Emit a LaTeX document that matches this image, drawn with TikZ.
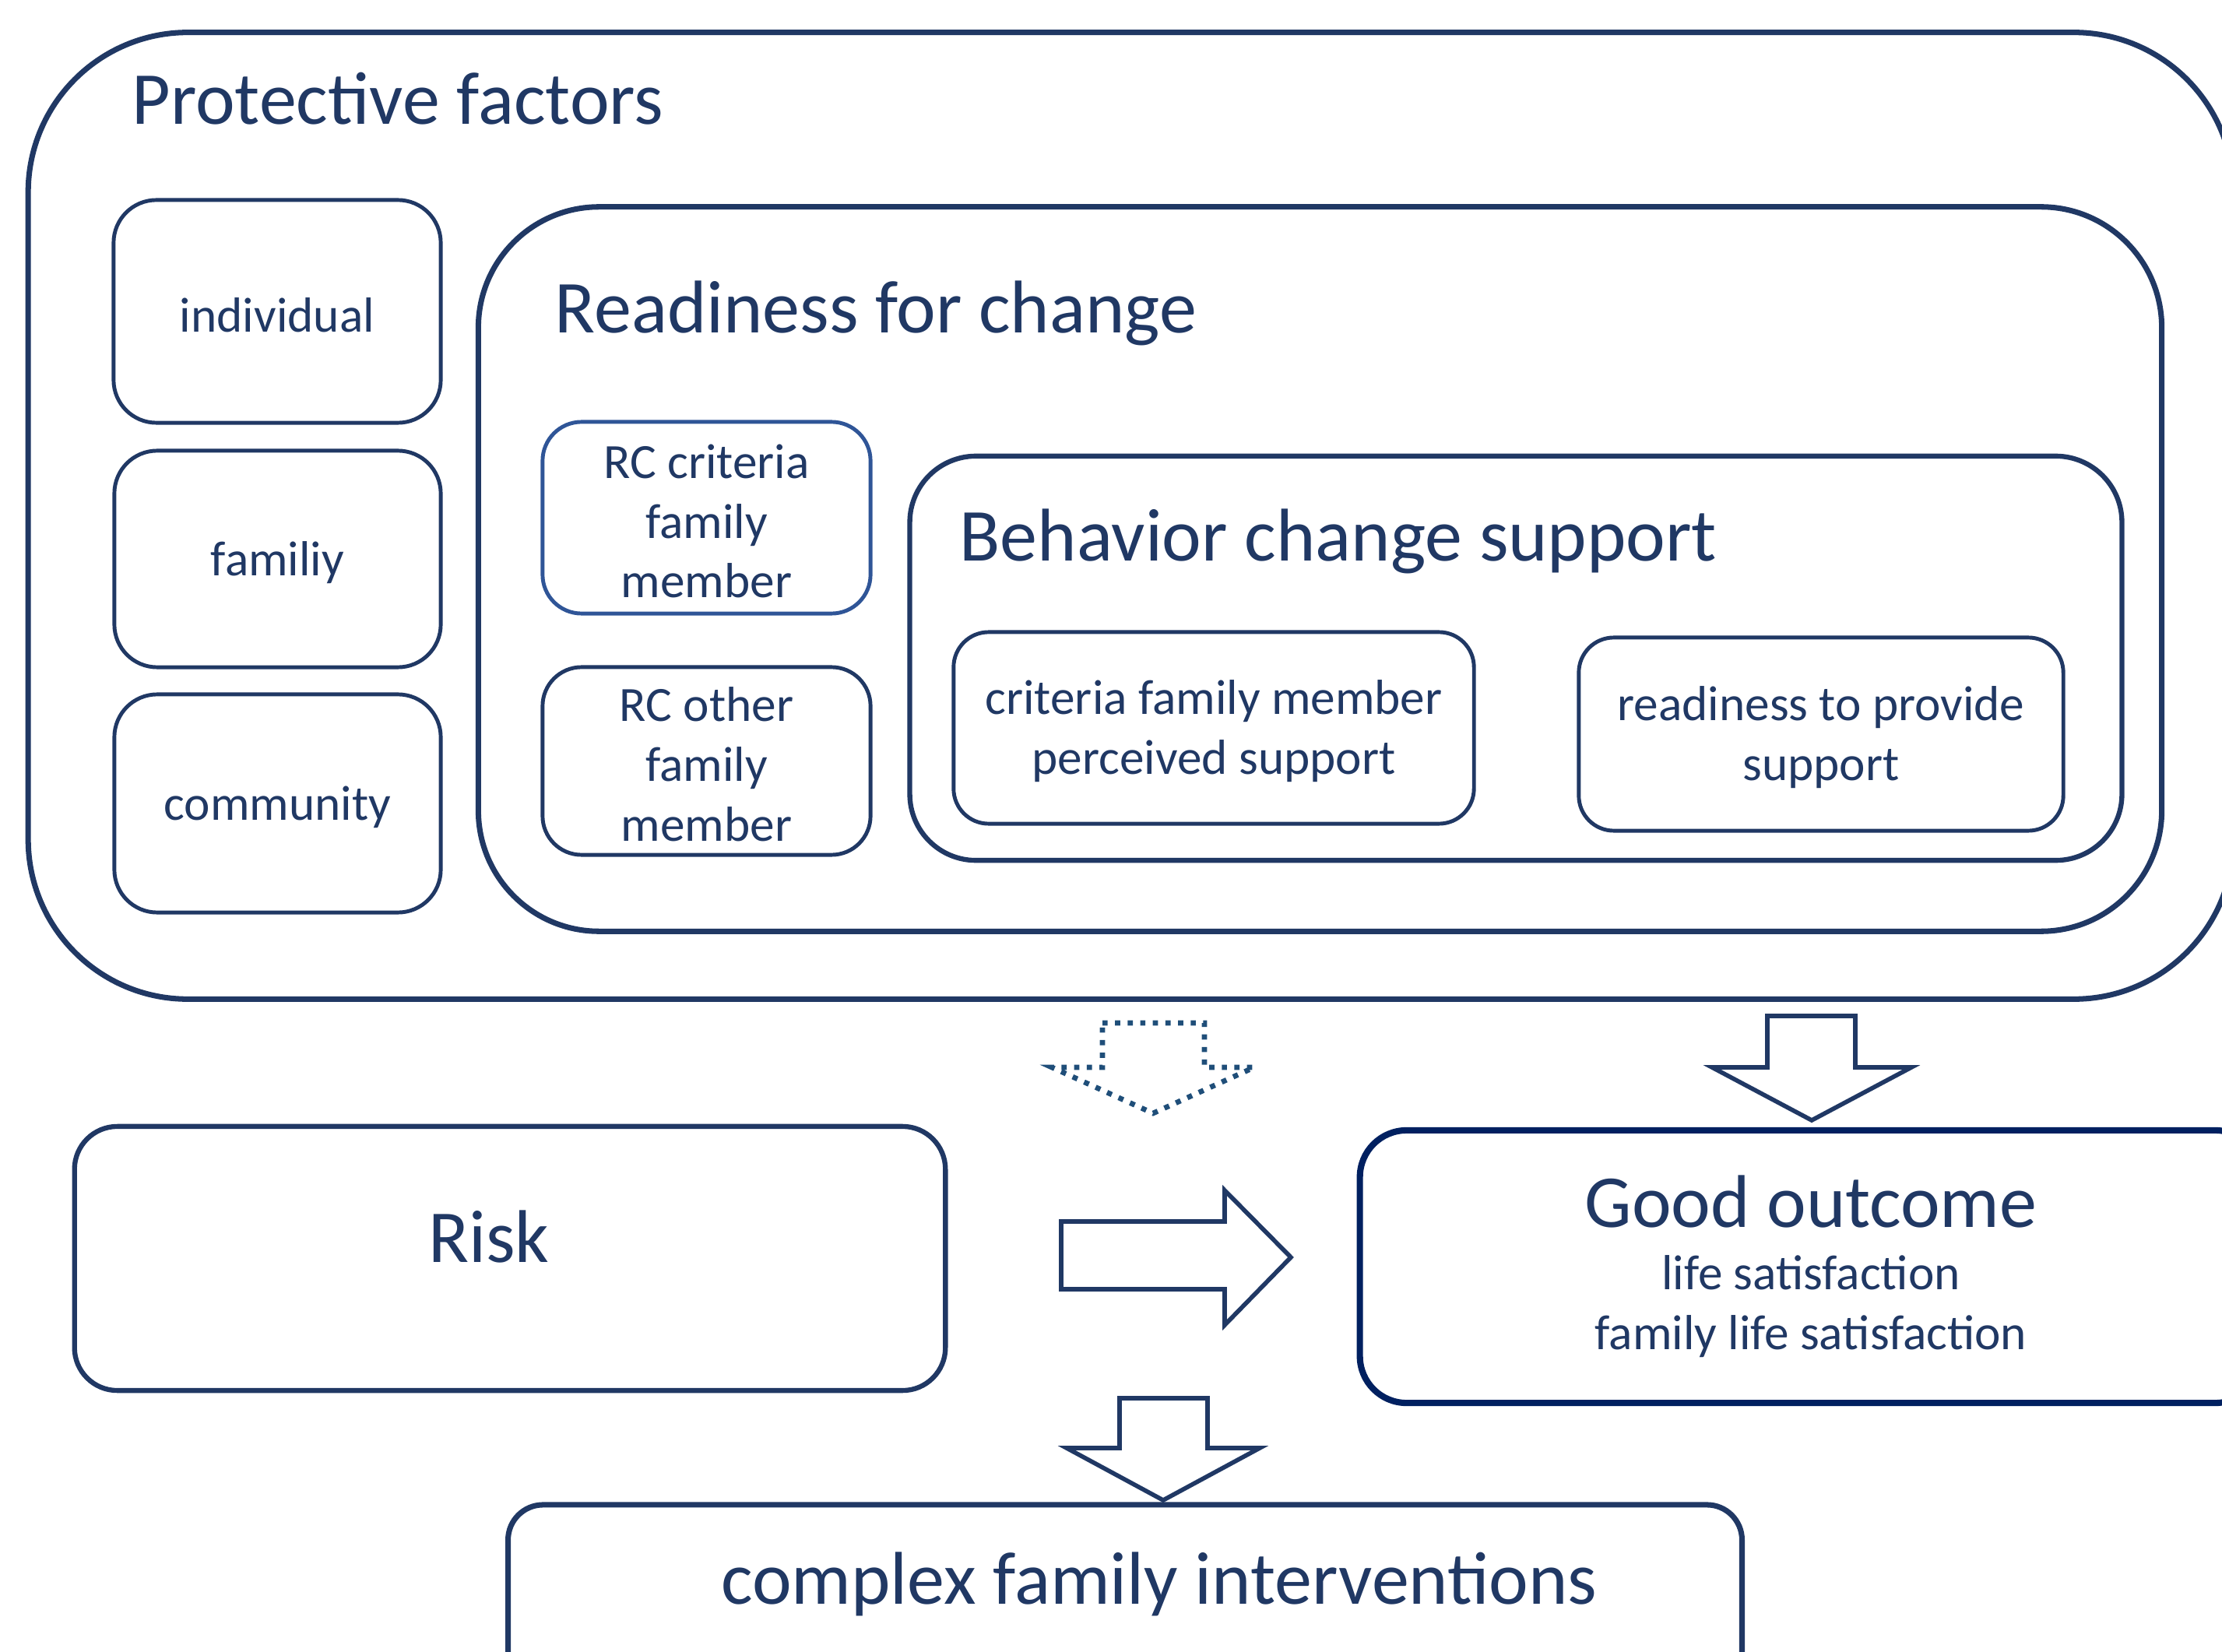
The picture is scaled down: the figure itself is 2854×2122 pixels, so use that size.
\documentclass[tikz,border=0pt]{standalone}
\usepackage{fontspec}
\setmainfont{Carlito}
\definecolor{navy}{HTML}{203864}
\definecolor{deepnavy}{HTML}{002060}
\definecolor{midblue}{HTML}{2F5597}
\definecolor{dotblue}{HTML}{1F4E79}
\newcommand{\bigfont}{\fontsize{27.3}{30}\selectfont}
\newcommand{\smallfont}{\fontsize{18}{21.8}\selectfont}
\newcommand{\lowerstrut}{\rule{0pt}{15pt}}
\tikzset{
  container/.style={draw=navy, line width=2pt, rectangle, inner sep=0pt},
  itembox/.style={draw=navy, line width=1.4pt, rectangle, inner sep=0pt, align=center, text=navy, font=\smallfont},
  titletext/.style={anchor=base west, inner sep=0pt, text=navy, font=\bigfont},
  blockarrow/.style={draw=navy, line width=1.6pt, line join=miter},
  dottedarrow/.style={draw=dotblue, line width=1.9pt, line cap=butt, dash pattern=on 1.9pt off 2.7pt},
}
\begin{document}
\begin{tikzpicture}[x=0.01cm, y=-0.01cm]
\useasboundingbox (0,0) rectangle (2854,2122);
\clip (0,0) rectangle (2854,2122);

% containers
\node[container, rounded corners=2.05cm, minimum width=28.31cm, minimum height=12.41cm] (protective) at (1452.5,662.5) {};
\node[titletext] (protectivetitle) at (169,160) {Protective factors};

\node[container, rounded corners=1.55cm, minimum width=21.61cm, minimum height=9.30cm] (readiness) at (1695.5,731) {};
\node[titletext] (readinesstitle) at (712,428) {Readiness for change};

\node[container, line width=1.8pt, rounded corners=0.85cm, minimum width=15.56cm, minimum height=5.19cm] (behavior) at (1947,845.5) {};
\node[titletext] (behaviortitle) at (1232,721) {Behavior change support};

% protective factor items
\node[itembox, rounded corners=0.55cm, minimum width=4.20cm, minimum height=2.86cm] (individual) at (356,400) {\lowerstrut individual};
\node[itembox, rounded corners=0.55cm, minimum width=4.19cm, minimum height=2.78cm] (familiy) at (356.5,718) {\lowerstrut familiy};
\node[itembox, rounded corners=0.55cm, minimum width=4.19cm, minimum height=2.80cm] (community) at (356.5,1032) {\lowerstrut community};

% readiness items
\node[itembox, draw=midblue, rounded corners=0.5cm, minimum width=4.21cm, minimum height=2.46cm] (rccriteria) at (907.5,665) {\lowerstrut RC criteria\\family\\member};
\node[itembox, rounded corners=0.5cm, minimum width=4.21cm, minimum height=2.41cm] (rcother) at (907.5,977.5) {\lowerstrut RC other\\family\\member};

% behavior items
\node[itembox, rounded corners=0.45cm, minimum width=6.68cm, minimum height=2.46cm] (perceived) at (1559,935) {\lowerstrut criteria family member\\perceived support};
\node[itembox, rounded corners=0.45cm, minimum width=6.22cm, minimum height=2.48cm] (provide) at (2339,943) {\lowerstrut readiness to provide\\support};

% lower boxes
\node[container, line width=1.8pt, rounded corners=0.55cm, minimum width=11.18cm, minimum height=3.39cm] (risk) at (655,1616.5) {};
\node[anchor=center, inner sep=0pt, text=navy, font=\bigfont] (risktext) at (628,1589) {Risk};

\node[container, draw=deepnavy, line width=2.3pt, rounded corners=0.6cm, minimum width=11.58cm, minimum height=3.50cm, align=center, text=navy, font=\smallfont] (outcome) at (2326,1627) {{\bigfont Good outcome}\\[1pt]life satisfaction\\family life satisfaction};

\node[container, rounded corners=0.45cm, minimum width=15.84cm, minimum height=2.70cm] (complex) at (1445,2068) {};
\node[anchor=center, inner sep=0pt, text=navy, font=\bigfont] (complextext) at (1489,2035) {complex family interventions};

% block arrows
\draw[dottedarrow] (1416,1314) -- (1547,1314) -- (1547,1371) -- (1611,1371) -- (1481,1430) -- (1351,1371) -- (1416,1371) -- cycle;
\draw[blockarrow] (2270,1305) -- (2383,1305) -- (2383,1371) -- (2455,1371) -- (2327,1439) -- (2199,1371) -- (2270,1371) -- cycle;
\draw[blockarrow] (1363,1569) -- (1573,1569) -- (1573,1529) -- (1658,1615) -- (1573,1702) -- (1573,1656) -- (1363,1656) -- cycle;
\draw[blockarrow] (1438,1796) -- (1551,1796) -- (1551,1860) -- (1618,1860) -- (1494,1927) -- (1370,1860) -- (1438,1860) -- cycle;
\end{tikzpicture}
\end{document}
